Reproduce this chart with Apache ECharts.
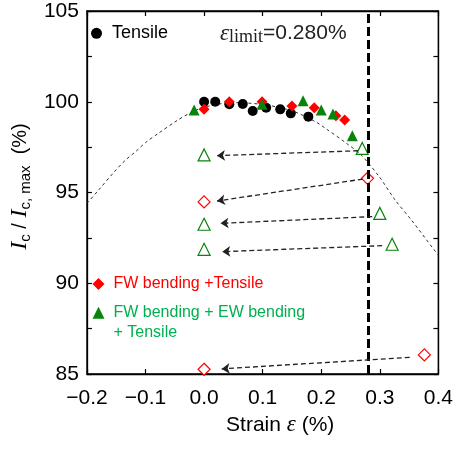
<!DOCTYPE html>
<html>
<head>
<meta charset="utf-8">
<script src="https://cdn.jsdelivr.net/npm/echarts@6/dist/echarts.min.js"></script>
<style>
    html, body { margin: 0; padding: 0; background: #fff; }
    #main { width: 456px; height: 453px; }
</style>
</head>
<body>
<div id="main"></div>
<script>
'use strict';
// 数据: 应变 (%) 与 Ic/Ic,max (%)
var tensileX = [0.0, 0.019, 0.043, 0.066, 0.083, 0.106, 0.130, 0.148, 0.178];
var tensileY = [100.0, 100.0, 99.86, 99.88, 99.49, 99.67, 99.58, 99.36, 99.18];

var fwX = [0.0, 0.043, 0.099, 0.150, 0.188, 0.225, 0.240];
var fwY = [99.58, 100.0, 100.0, 99.77, 99.67, 99.23, 98.99];

var fwewX = [-0.017, 0.099, 0.169, 0.200, 0.220, 0.253];
var fwewY = [99.55, 99.86, 100.06, 99.55, 99.33, 98.13];

// 空心点 (卸载后 / 超限)
var openRedX = [0.279, 0.376, 0.0, 0.0];
var openRedY = [95.78, 86.05, 94.48, 85.26];
var openGreenX = [0.270, 0.300, 0.321, 0.0, 0.0, 0.0];
var openGreenY = [97.43, 93.85, 92.15, 97.07, 93.25, 91.87];

// 虚线拟合曲线
var fitX = [-0.2, -0.18, -0.153, -0.134, -0.117, -0.1, -0.078, -0.045, -0.025, 0.0, 0.05, 0.1, 0.15, 0.19, 0.207, 0.243, 0.268, 0.299, 0.326, 0.354, 0.393, 0.4];
var fitY = [94.4, 95.14, 96.15, 96.79, 97.25, 97.75, 98.26, 98.99, 99.36, 99.7, 99.95, 99.85, 99.5, 98.9, 98.54, 97.71, 97.07, 95.87, 94.59, 93.48, 91.83, 91.55];

// 箭头 起点 -> 终点
var arrowFrom = [[0.263, 97.30], [0.271, 95.74], [0.287, 93.67], [0.304, 92.07], [0.351, 85.92]];
var arrowTo = [[0.022, 97.03], [0.022, 94.53], [0.028, 93.30], [0.031, 91.74], [0.030, 85.28]];

var strainLimit = 0.28;
var xTicks = { min: -0.2, max: 0.4, interval: 0.1 };
var yTicks = { min: 85, max: 105, interval: 2.5 };

var nameTensile = 'Tensile';
var nameFW = 'FW bending +Tensile';
var nameFWEW = 'FW bending + EW bending\n+ Tensile';

var RED = '#ff0000';
var GREEN = '#0a830a';
var GREEN_TEXT = '#00b050';
var SANS = 'Liberation Sans';
var SERIF = 'Liberation Serif';

function zip(xs, ys) {
    return xs.map(function (x, i) { return [x, ys[i]]; });
}

var axisCommon = {
    show: true,
    gridIndex: 0,
    axisLine: { show: true, onZero: false, lineStyle: { color: '#000', width: 1.3 } },
    axisTick: { show: true, inside: true, length: 5, lineStyle: { color: '#000', width: 1.2 } },
    splitLine: { show: false }
};

var option = {
    animation: false,
    backgroundColor: '#fff',
    grid: { left: 80, right: 15, top: 11, bottom: 79, show: true, borderColor: '#000', borderWidth: 1.3, backgroundColor: 'transparent' },
    xAxis: [
        Object.assign({
            type: 'value',
            min: xTicks.min, max: xTicks.max, interval: xTicks.interval,
            name: '{a|Strain }{e|ε}{a| (%)}',
            nameLocation: 'middle',
            nameGap: 36,
            nameTextStyle: {
                padding: [0, 0, 0, 35],
                rich: {
                    a: { fontFamily: SANS, fontSize: 21, color: '#000' },
                    e: { fontFamily: SERIF, fontStyle: 'italic', fontSize: 23, color: '#000' }
                }
            },
            axisLabel: {
                margin: 14,
                fontFamily: SANS, fontSize: 21, color: '#000',
                formatter: function (v) { return v.toFixed(1).replace('-', '\u2212'); }
            }
        }, axisCommon),
        // 上方镜像轴 (只画刻度)
        Object.assign({
            type: 'value', position: 'top',
            min: xTicks.min, max: xTicks.max, interval: xTicks.interval,
            axisLabel: { show: false }
        }, axisCommon)
    ],
    yAxis: [
        Object.assign({
            type: 'value',
            min: yTicks.min, max: yTicks.max, interval: yTicks.interval,
            name: '{i|I}{s|c}{t| / }{i|I}{s|c, max}{t|  (%)}',
            nameLocation: 'middle',
            nameRotate: 90,
            nameGap: 47,
            nameTextStyle: {
                padding: [0, 0, 0, 12],
                rich: {
                    i: { fontFamily: SERIF, fontStyle: 'italic', fontSize: 24, color: '#000', lineHeight: 26 },
                    s: { fontFamily: SANS, fontSize: 15, color: '#000', lineHeight: 12, verticalAlign: 'bottom' },
                    t: { fontFamily: SANS, fontSize: 20, color: '#000', lineHeight: 26 }
                }
            },
            axisLabel: {
                margin: 8,
                fontFamily: SANS, fontSize: 21, color: '#000',
                formatter: function (v) { return v % 5 === 0 ? String(v) : ''; }
            }
        }, axisCommon),
        // 右侧镜像轴
        Object.assign({
            type: 'value', position: 'right',
            min: yTicks.min, max: yTicks.max, interval: yTicks.interval,
            axisLabel: { show: false }
        }, axisCommon)
    ],
    legend: [
        {
            data: [nameTensile],
            left: 91, top: 22.8, padding: 0,
            itemWidth: 11, itemHeight: 11,
            textStyle: { fontFamily: SANS, fontSize: 18, lineHeight: 21, color: '#000', padding: [0, 0, 0, 5] }
        },
        {
            data: [
                { name: nameFW, textStyle: { color: RED } },
                { name: nameFWEW, textStyle: { color: GREEN_TEXT } }
            ],
            orient: 'vertical',
            left: 92.5, top: 274.3, padding: 0,
            itemWidth: 12, itemHeight: 12, itemGap: -10,
            formatter: function (name) { return name === nameFWEW ? '\n' + name : name; },
            textStyle: { fontFamily: SANS, fontSize: 16, lineHeight: 19.4, padding: [0, 0, 0, 4] }
        }
    ],
    graphic: [
        {
            type: 'text',
            left: 220, top: 22,
            style: {
                text: '{e|ε}{s|limit}{n|=0.280%}',
                rich: {
                    e: { fontFamily: SERIF, fontStyle: 'italic', fontSize: 23, lineHeight: 26, fill: '#222' },
                    s: { fontFamily: SERIF, fontSize: 18, lineHeight: 16, verticalAlign: 'bottom', fill: '#222' },
                    n: { fontFamily: SANS, fontSize: 21, lineHeight: 26, fill: '#222' }
                }
            }
        }
    ],
    series: [
        {
            // 拟合曲线
            name: 'fit',
            type: 'line',
            data: zip(fitX, fitY),
            smooth: 0.3,
            showSymbol: false,
            symbol: 'none',
            z: 1,
            lineStyle: { color: '#333', width: 1, type: [3, 3] },
            // 应变极限
            markLine: {
                silent: true,
                symbol: ['none', 'none'],
                label: { show: false },
                lineStyle: { color: '#000', width: 3, type: [9, 4] },
                data: [{ xAxis: strainLimit }]
            }
        },
        {
            // 箭头, 绑定到镜像轴
            name: 'arrows',
            type: 'scatter',
            xAxisIndex: 1,
            yAxisIndex: 1,
            data: [[-1, -1]],
            symbolSize: 0,
            z: 2,
            markLine: {
                silent: true,
                symbol: ['none', 'arrow'],
                symbolSize: 8,
                label: { show: false },
                lineStyle: { color: '#222', width: 1.3, type: [5, 3] },
                data: arrowFrom.map(function (p, i) {
                    return [{ coord: p }, { coord: arrowTo[i] }];
                })
            }
        },
        {
            name: 'open-red',
            type: 'scatter',
            data: zip(openRedX, openRedY),
            symbol: 'diamond',
            symbolSize: 12,
            z: 3,
            itemStyle: { color: '#fff', borderColor: RED, borderWidth: 1.2, opacity: 1 }
        },
        {
            name: 'open-green',
            type: 'scatter',
            data: zip(openGreenX, openGreenY),
            symbol: 'triangle',
            symbolSize: 12,
            z: 3,
            itemStyle: { color: 'rgba(255,255,255,0)', borderColor: GREEN, borderWidth: 1.2, opacity: 1 }
        },
        {
            name: nameTensile,
            type: 'scatter',
            data: zip(tensileX, tensileY),
            symbol: 'circle',
            symbolSize: 10,
            z: 4,
            itemStyle: { color: '#000', opacity: 1 }
        },
        {
            name: nameFW,
            type: 'scatter',
            data: zip(fwX, fwY),
            symbol: 'diamond',
            symbolSize: 11,
            z: 5,
            itemStyle: { color: RED, opacity: 1 }
        },
        {
            name: nameFWEW,
            type: 'scatter',
            data: zip(fwewX, fwewY),
            symbol: 'triangle',
            symbolSize: 11,
            z: 6,
            itemStyle: { color: GREEN, opacity: 1 }
        }
    ]
};

var chart = echarts.init(document.getElementById('main'), null, { renderer: 'canvas' });
chart.setOption(option);
</script>
</body>
</html>
